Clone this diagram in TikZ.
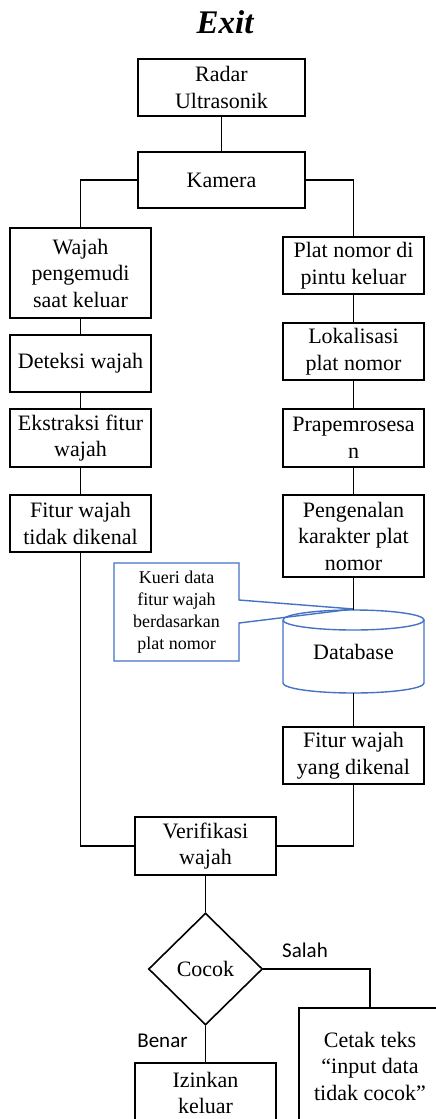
\documentclass[tikz,border=0pt]{standalone}
\usepackage{fontspec}
\setmainfont{Liberation Serif}
\newfontfamily\labelfont{Carlito}
\usetikzlibrary{shapes.geometric}
\definecolor{calloutblue}{RGB}{68,114,196}
\begin{document}
\begin{tikzpicture}[x=1pt,y=-1pt,
  box/.style={draw,line width=1.6pt,rectangle,minimum width=141pt,inner sep=0pt,align=center,
              font=\fontsize{22}{26.5}\selectfont},
  wide/.style={box,minimum width=167pt},
  link/.style={line width=1.2pt},
  decision/.style={draw,line width=1.6pt,diamond,aspect=1,inner sep=0pt,
              minimum width=114pt,minimum height=112pt,font=\fontsize{22}{26.5}\selectfont},
  branch/.style={font=\labelfont\fontsize{21}{25}\selectfont,inner sep=0pt},
  note/.style={align=center,inner sep=0pt,font=\fontsize{18}{21.8}\selectfont},
  dbline/.style={draw=calloutblue,line width=1.4pt}]
\useasboundingbox (0,0) rectangle (436,1119);
\clip (0,0) rectangle (436,1119);

% title
\node[font=\fontsize{33}{38}\selectfont\bfseries\itshape] (title) at (225,22) {Exit};

% top chain
\node[wide,minimum height=57pt] (radar) at (221.5,87.5) {Radar\\Ultrasonik};
\node[wide,minimum height=56pt] (kamera) at (221.5,180) {Kamera};

% left column: face branch
\node[box,minimum height=90pt] (wajah) at (80.5,273) {Wajah\\pengemudi\\saat keluar};
\node[box,minimum height=57pt] (deteksi) at (80.5,363.5) {Deteksi wajah};
\node[box,minimum height=58pt] (ekstraksi) at (80.5,438) {Ekstraksi fitur\\wajah};
\node[box,minimum height=57pt] (tidak) at (80.5,523.5) {Fitur wajah\\tidak dikenal};

% right column: plate branch
\node[box,minimum height=57pt] (plat) at (353.5,265.5) {Plat nomor di\\pintu keluar};
\node[box,minimum height=57pt] (lokal) at (353.5,351.5) {Lokalisasi\\plat nomor};
\node[box,minimum height=58pt] (prap) at (353.5,438) {Prapemrosesa\\n};
\node[box,minimum height=82pt] (kenali) at (353.5,536) {Pengenalan\\karakter plat\\nomor};

% database cylinder
\node[minimum width=141pt,minimum height=83pt,inner sep=0pt,
      font=\fontsize{22}{26.5}\selectfont] (db) at (353.5,651.5) {Database};
\draw[dbline] (283,620) arc[start angle=180,end angle=540,x radius=70.5,y radius=10];
\draw[dbline] (283,620) -- (283,683) arc[start angle=180,end angle=0,x radius=70.5,y radius=10] -- (424,620);

% callout attached to the database
\draw[dbline] (114,563) -- (239,563) -- (239,600) -- (353.5,609) -- (239,623) -- (239,661) -- (114,661) -- cycle;
\node[note] (kueri) at (176.5,612) {Kueri data\\fitur wajah\\berdasarkan\\plat nomor};

\node[box,minimum height=57pt] (kenal) at (353.5,755.5) {Fitur wajah\\yang dikenal};

% verification and decision
\node[box,minimum height=58pt] (verif) at (205.5,846) {Verifikasi\\wajah};
\node[decision] (cocok) at (205.5,969) {Cocok};
\node[box,minimum width=142pt,minimum height=116pt] (cetak) at (370,1066) {Cetak teks\\``input data\\tidak cocok''};
\node[box,minimum height=60pt] (izin) at (205.5,1093) {Izinkan\\keluar};

\node[branch] (salah) at (305,950) {Salah};
\node[branch] (benar) at (162.5,1041) {Benar};

% connectors
\draw[link] (radar.south) -- (kamera.north);
\draw[link] (kamera.west) -| (wajah.north);
\draw[link] (kamera.east) -| (plat.north);
\draw[link] (wajah) -- (deteksi);
\draw[link] (deteksi) -- (ekstraksi);
\draw[link] (ekstraksi) -- (tidak);
\draw[link] (plat) -- (lokal);
\draw[link] (lokal) -- (prap);
\draw[link] (prap) -- (kenali);
\draw[link] (kenali.south) -- (db.north);
\draw[link] (db.south) -- (kenal.north);
\draw[link] (tidak.south) |- (verif.west);
\draw[link] (kenal.south) |- (verif.east);
\draw[link] (verif.south) -- (cocok.north);
\draw[link] (cocok.east) -| (cetak.north);
\draw[link] (cocok.south) -- (izin.north);
\end{tikzpicture}
\end{document}
